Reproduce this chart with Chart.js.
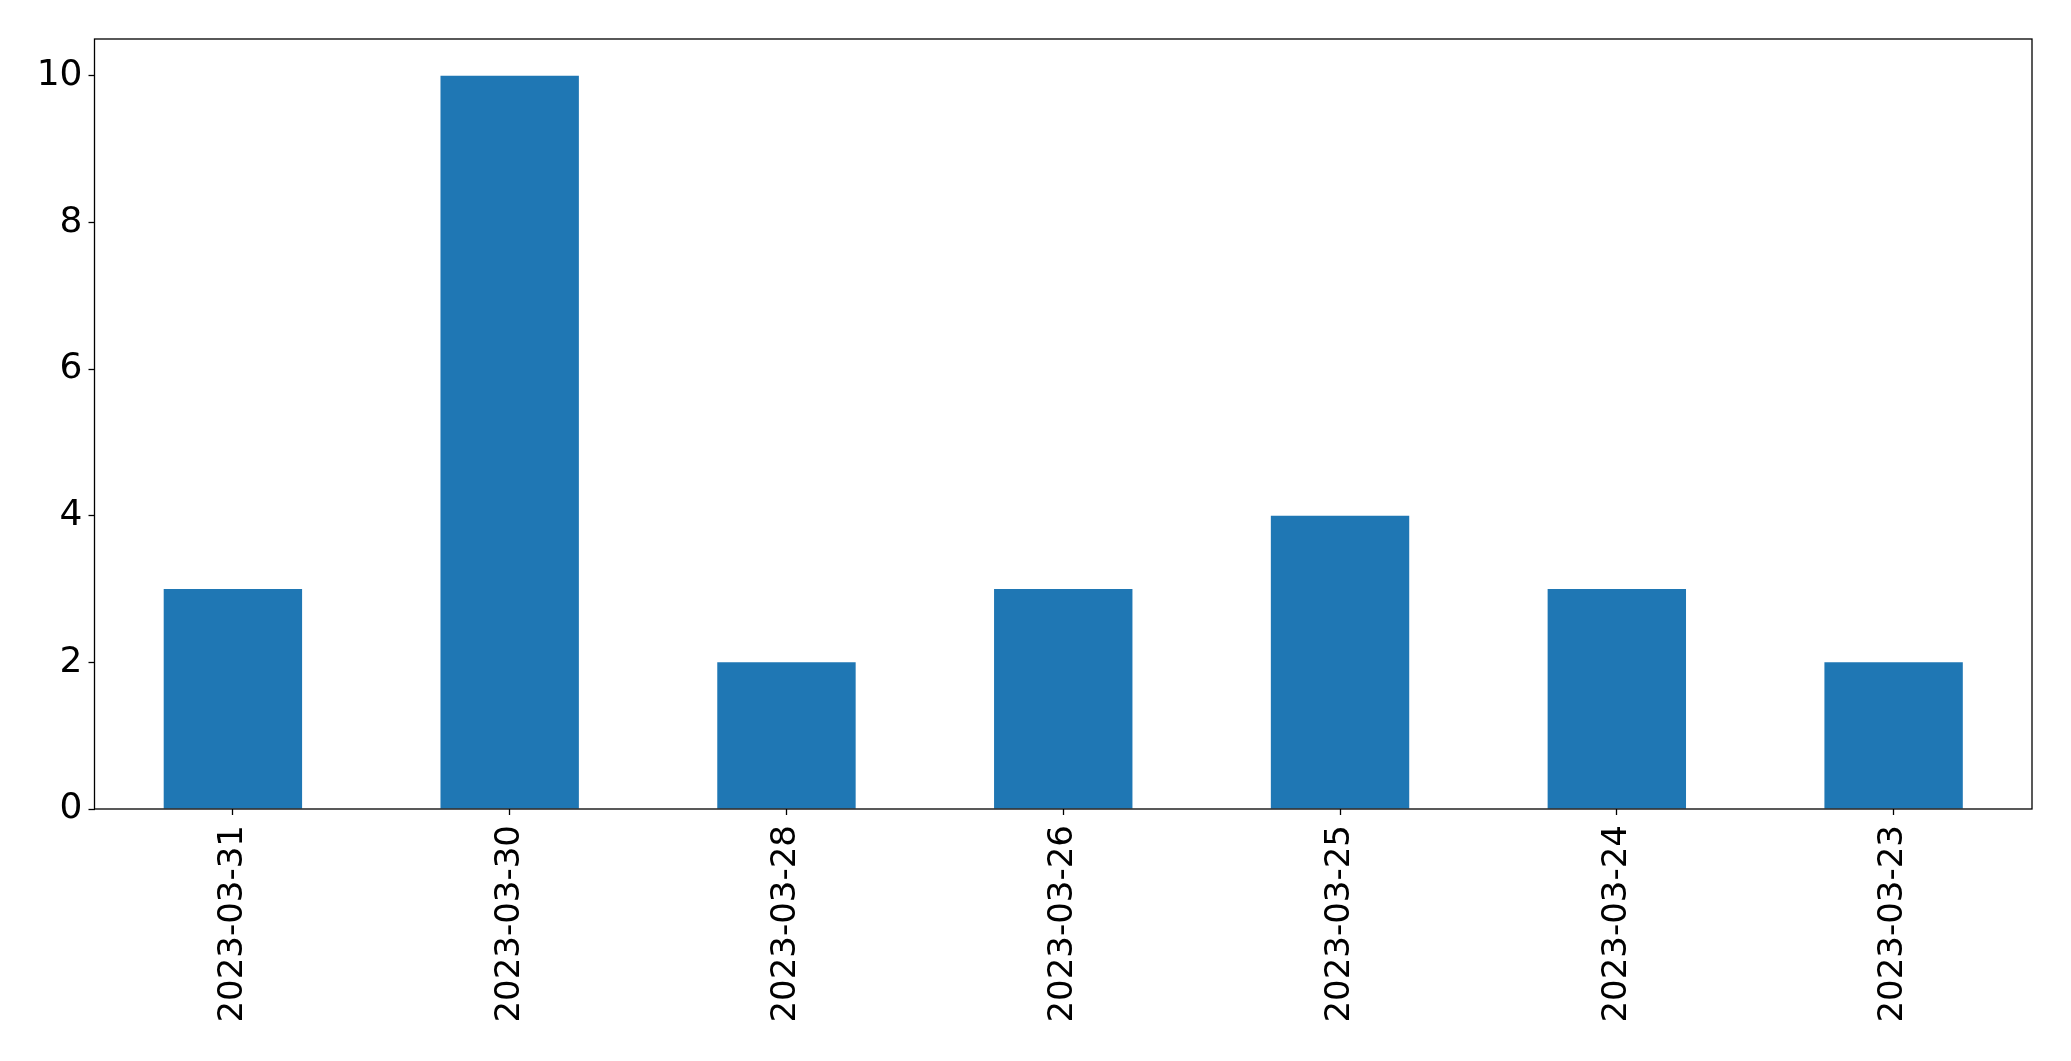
<!DOCTYPE html>
<html>
<head>
<meta charset="utf-8">
<script src="https://cdn.jsdelivr.net/npm/chart.js@4"></script>
<style>
  html, body { margin: 0; padding: 0; background: #fff; }
  #wrap { width: 2071px; height: 1061px; }
</style>
</head>
<body>
<div id="wrap"><canvas id="chart-dates"></canvas></div>
<script>
const dates = ["2023-03-31", "2023-03-30", "2023-03-28", "2023-03-26", "2023-03-25", "2023-03-24", "2023-03-23"];
const counts = [3, 10, 2, 3, 4, 3, 2];
const yTicks = [0, 2, 4, 6, 8, 10];

// box around the plot area, like the matplotlib axes frame
const frame = {
  id: "frame",
  afterDraw(chart) {
    const a = chart.chartArea;
    const ctx = chart.ctx;
    ctx.save();
    ctx.strokeStyle = "#000";
    ctx.lineWidth = 1.3;
    ctx.strokeRect(a.left, a.top, a.right - a.left, a.bottom - a.top);
    ctx.restore();
  },
};

const ctx = document.getElementById("chart-dates").getContext("2d");
const myChart = new Chart(ctx, {
  type: "bar",
  data: {
    labels: dates,
    datasets: [
      {
        data: counts,
        backgroundColor: "#1f77b4",
        borderWidth: 0,
        categoryPercentage: 1,
        barPercentage: 0.5,
      },
    ],
  },
  options: {
    responsive: true,
    maintainAspectRatio: false,
    animation: false,
    layout: { padding: { top: 39, right: 39, left: 0, bottom: 0 } },
    plugins: { legend: { display: false }, tooltip: { enabled: false } },
    scales: {
      x: {
        grid: { offset: false, drawOnChartArea: false, tickLength: 6, tickColor: "#000", tickWidth: 1.3 },
        border: { display: false },
        ticks: { color: "#000", font: { family: "DejaVu Sans", size: 34 }, minRotation: 90, maxRotation: 90, padding: 10 },
        afterFit(scale) { scale.height = 252; },
      },
      y: {
        min: 0,
        max: 10.5,
        afterBuildTicks(scale) { scale.ticks = yTicks.map((v) => ({ value: v })); },
        grid: { drawOnChartArea: false, tickLength: 6, tickColor: "#000", tickWidth: 1.3 },
        border: { display: false },
        ticks: { color: "#000", font: { family: "DejaVu Sans", size: 36 }, padding: 6 },
        afterFit(scale) { scale.width = 94.5; },
      },
    },
  },
  plugins: [frame],
});
</script>
</body>
</html>
